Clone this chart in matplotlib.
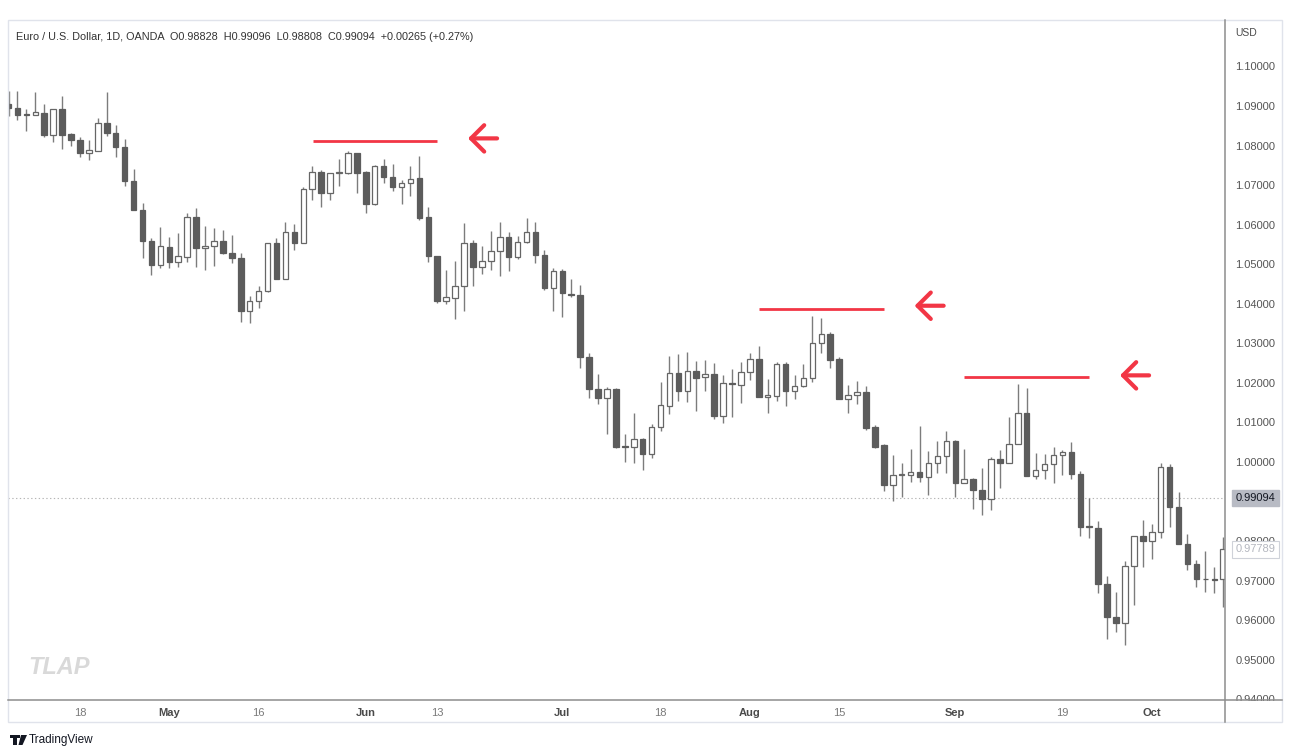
import numpy as np
import pandas as pd
import matplotlib
matplotlib.use("Agg")
import matplotlib.pyplot as plt
from matplotlib.lines import Line2D
from matplotlib.patches import Rectangle, Polygon

plt.rcParams['font.family'] = ['Liberation Sans', 'DejaVu Sans']

# ---------------- data ----------------
dates = pd.bdate_range('2022-04-06', '2022-10-13')

opens = [1.0905, 1.0895, 1.0880, 1.0877, 1.0883, 1.0827, 1.0892, 1.0828, 1.0814, 1.0782,
         1.0787, 1.0856, 1.0831, 1.0797, 1.0711, 1.0637, 1.0559, 1.0498, 1.0544, 1.0506,
         1.0519, 1.0620, 1.0540, 1.0546, 1.0559, 1.0529, 1.0515, 1.0382, 1.0407, 1.0432,
         1.0553, 1.0463, 1.0582, 1.0554, 1.0689, 1.0734, 1.0679, 1.0730, 1.0731, 1.0780,
         1.0734, 1.0651, 1.0748, 1.0720, 1.0696, 1.0704, 1.0717, 1.0620, 1.0521, 1.0407,
         1.0415, 1.0445, 1.0553, 1.0492, 1.0509, 1.0533, 1.0568, 1.0519, 1.0555, 1.0582,
         1.0523, 1.0441, 1.0483, 1.0424, 1.0422, 1.0266, 1.0185, 1.0161, 1.0185, 1.0040,
         1.0037, 1.0058, 1.0019, 1.0088, 1.0142, 1.0226, 1.0179, 1.0230, 1.0214, 1.0223,
         1.0117, 1.0198, 1.0195, 1.0227, 1.0260, 1.0165, 1.0168, 1.0247, 1.0179, 1.0193,
         1.0212, 1.0300, 1.0324, 1.0260, 1.0158, 1.0169, 1.0178, 1.0088, 1.0043, 0.9942,
         0.9967, 0.9967, 0.9974, 0.9961, 0.9998, 1.0015, 1.0054, 0.9946, 0.9956, 0.9929,
         0.9906, 1.0007, 0.9998, 1.0046, 1.0123, 0.9965, 0.9980, 0.9995, 1.0017, 1.0025,
         0.9970, 0.9836, 0.9832, 0.9692, 0.9607, 0.9592, 0.9737, 0.9814, 0.9801, 0.9824,
         0.9988, 0.9885, 0.9793, 0.9741, 0.9704, 0.9703, 0.9703]
highs = [1.0938, 1.0938, 1.0892, 1.0934, 1.0905, 1.0892, 1.0925, 1.0832, 1.0821, 1.0814,
         1.0869, 1.0936, 1.0852, 1.0816, 1.0740, 1.0654, 1.0565, 1.0595, 1.0569, 1.0578,
         1.0630, 1.0641, 1.0597, 1.0592, 1.0586, 1.0575, 1.0529, 1.0420, 1.0445, 1.0554,
         1.0565, 1.0607, 1.0602, 1.0696, 1.0748, 1.0738, 1.0731, 1.0765, 1.0787, 1.0782,
         1.0736, 1.0751, 1.0765, 1.0753, 1.0713, 1.0748, 1.0774, 1.0644, 1.0521, 1.0485,
         1.0508, 1.0603, 1.0561, 1.0547, 1.0584, 1.0606, 1.0581, 1.0571, 1.0616, 1.0607,
         1.0536, 1.0490, 1.0487, 1.0463, 1.0447, 1.0276, 1.0222, 1.0190, 1.0187, 1.0072,
         1.0123, 1.0061, 1.0096, 1.0203, 1.0269, 1.0273, 1.0279, 1.0255, 1.0258, 1.0251,
         1.0220, 1.0234, 1.0254, 1.0275, 1.0294, 1.0210, 1.0254, 1.0254, 1.0220, 1.0247,
         1.0369, 1.0365, 1.0328, 1.0266, 1.0195, 1.0205, 1.0192, 1.0094, 1.0045, 1.0018,
         0.9997, 1.0033, 1.0091, 1.0028, 1.0054, 1.0079, 1.0056, 1.0032, 0.9959, 0.9986,
         1.0013, 1.0030, 1.0115, 1.0197, 1.0186, 1.0024, 1.0020, 1.0037, 1.0030, 1.0051,
         0.9978, 0.9908, 0.9852, 0.9711, 0.9672, 0.9750, 0.9814, 0.9853, 0.9843, 0.9998,
         0.9995, 0.9925, 0.9817, 0.9752, 0.9775, 0.9734, 0.9810]
lows = [1.0875, 1.0865, 1.0837, 1.0876, 1.0822, 1.0810, 1.0792, 1.0799, 1.0770, 1.0763,
        1.0787, 1.0824, 1.0772, 1.0698, 1.0636, 1.0515, 1.0473, 1.0491, 1.0491, 1.0494,
        1.0506, 1.0494, 1.0485, 1.0496, 1.0527, 1.0502, 1.0355, 1.0351, 1.0390, 1.0430,
        1.0463, 1.0463, 1.0536, 1.0554, 1.0662, 1.0644, 1.0662, 1.0698, 1.0728, 1.0681,
        1.0629, 1.0650, 1.0705, 1.0686, 1.0652, 1.0672, 1.0612, 1.0506, 1.0401, 1.0399,
        1.0361, 1.0382, 1.0445, 1.0475, 1.0485, 1.0470, 1.0484, 1.0512, 1.0553, 1.0504,
        1.0435, 1.0382, 1.0366, 1.0418, 1.0237, 1.0163, 1.0146, 1.0072, 1.0035, 1.0001,
        0.9998, 0.9981, 1.0009, 1.0079, 1.0121, 1.0155, 1.0152, 1.0130, 1.0180, 1.0108,
        1.0098, 1.0115, 1.0148, 1.0207, 1.0164, 1.0125, 1.0155, 1.0142, 1.0158, 1.0190,
        1.0203, 1.0276, 1.0238, 1.0158, 1.0123, 1.0147, 1.0081, 1.0035, 0.9927, 0.9901,
        0.9912, 0.9950, 0.9950, 0.9917, 0.9971, 0.9971, 0.9912, 0.9946, 0.9880, 0.9866,
        0.9879, 0.9934, 0.9998, 1.0046, 0.9965, 0.9956, 0.9956, 0.9946, 0.9967, 0.9956,
        0.9814, 0.9809, 0.9670, 0.9552, 0.9571, 0.9537, 0.9639, 0.9735, 0.9754, 0.9807,
        0.9836, 0.9793, 0.9727, 0.9683, 0.9672, 0.9670, 0.9634]
closes = [1.0895, 1.0878, 1.0877, 1.0884, 1.0827, 1.0892, 1.0827, 1.0814, 1.0782, 1.0789,
          1.0856, 1.0831, 1.0797, 1.0711, 1.0636, 1.0559, 1.0498, 1.0546, 1.0506, 1.0521,
          1.0620, 1.0540, 1.0547, 1.0559, 1.0529, 1.0515, 1.0382, 1.0407, 1.0432, 1.0553,
          1.0463, 1.0582, 1.0554, 1.0689, 1.0734, 1.0679, 1.0731, 1.0732, 1.0780, 1.0731,
          1.0651, 1.0748, 1.0720, 1.0696, 1.0704, 1.0715, 1.0616, 1.0521, 1.0407, 1.0416,
          1.0446, 1.0553, 1.0492, 1.0509, 1.0533, 1.0568, 1.0519, 1.0557, 1.0582, 1.0523,
          1.0439, 1.0483, 1.0426, 1.0422, 1.0266, 1.0185, 1.0161, 1.0185, 1.0039, 1.0038,
          1.0057, 1.0019, 1.0089, 1.0144, 1.0226, 1.0179, 1.0230, 1.0213, 1.0223, 1.0116,
          1.0199, 1.0197, 1.0227, 1.0260, 1.0164, 1.0169, 1.0247, 1.0179, 1.0193, 1.0212,
          1.0300, 1.0324, 1.0258, 1.0158, 1.0169, 1.0178, 1.0087, 1.0039, 0.9942, 0.9967,
          0.9968, 0.9974, 0.9961, 0.9998, 1.0015, 1.0054, 0.9946, 0.9956, 0.9929, 0.9906,
          1.0007, 0.9998, 1.0046, 1.0123, 0.9965, 0.9980, 0.9995, 1.0017, 1.0025, 0.9970,
          0.9836, 0.9835, 0.9692, 0.9607, 0.9592, 0.9737, 0.9814, 0.9801, 0.9824, 0.9988,
          0.9885, 0.9793, 0.9741, 0.9704, 0.9703, 0.9702, 0.9779]

tick_dates = ['2022-04-18', '2022-05-02', '2022-05-16', '2022-06-01', '2022-06-13',
              '2022-07-01', '2022-07-18', '2022-08-01', '2022-08-15', '2022-09-01',
              '2022-09-19', '2022-10-03']
tick_labels = ['18', 'May', '16', 'Jun', '13', 'Jul', '18', 'Aug', '15', 'Sep', '19', 'Oct']
month_labels = {'May', 'Jun', 'Jul', 'Aug', 'Sep', 'Oct'}
# 0.99 is hidden behind the crosshair price tag in the reference
price_ticks = [0.94, 0.95, 0.96, 0.97, 0.98, 1.00, 1.01, 1.02, 1.03,
               1.04, 1.05, 1.06, 1.07, 1.08, 1.09, 1.10]

# resistance annotations (levels, span in bar units, arrow tips)
res_levels = [1.0811, 1.0388, 1.0214]
res_spans = [(34.1, 48.0), (84.05, 98.0), (107.0, 121.0)]
arrow_levels = [1.0818, 1.0395, 1.0219]
arrow_tips = [51.45, 101.45, 124.45]

header = ("Euro / U.S. Dollar, 1D, OANDA  O0.98828  H0.99096  L0.98808  "
          "C0.99094  +0.00265 (+0.27%)")
crosshair_price = 0.99094
last_price = 0.97789

# ---------------- figure ----------------
W, H = 1290, 754
fig = plt.figure(figsize=(W / 100, H / 100), dpi=100)
fig.patch.set_facecolor('white')

def fx(px):
    return px / W

def fy(py):
    return 1 - py / H

ax = fig.add_axes([fx(8), fy(700), fx(1225) - fx(8), fy(22) - fy(700)])
ax.set_facecolor('white')

x = np.arange(len(dates))
o = np.array(opens); h = np.array(highs); l = np.array(lows); c = np.array(closes)
up = c >= o
bottom = np.minimum(o, c)
height = np.maximum(np.abs(c - o), 0.00022)

wick_col = '#7c7c7c'
dark_col = '#5c5c5c'
ax.vlines(x, l, h, color=wick_col, lw=1.0, zorder=1)
ax.bar(x[up], height[up], bottom=bottom[up], width=0.62, facecolor='white',
       edgecolor='#666666', lw=0.9, zorder=2)
ax.bar(x[~up], height[~up], bottom=bottom[~up], width=0.62, facecolor=dark_col,
       edgecolor=dark_col, lw=0.9, zorder=2)

# crosshair dotted line
ax.axhline(crosshair_price, color='#b5b5b5', lw=0.8, ls=(0, (1.2, 2.2)), zorder=0)

# resistance lines and arrows
red = '#f23645'
for lev, (x0, x1) in zip(res_levels, res_spans):
    ax.plot([x0, x1], [lev, lev], color=red, lw=2.0, solid_capstyle='butt', zorder=4)
for lev, tip in zip(arrow_levels, arrow_tips):
    ax.annotate('', xy=(tip, lev), xytext=(tip + 3.25, lev),
                arrowprops=dict(arrowstyle='->,head_length=0.5,head_width=0.5',
                                mutation_scale=19, lw=3.0, color=red,
                                shrinkA=0, shrinkB=0, capstyle='round',
                                joinstyle='round'),
                zorder=5)

ax.set_xlim(-0.06, 136.2)
ax.set_ylim(0.93984, 1.11122)

# ticks
tick_pos = [dates.get_loc(pd.Timestamp(d)) for d in tick_dates]
ax.set_xticks(tick_pos)
ax.set_xticklabels(tick_labels)
for lab in ax.get_xticklabels():
    if lab.get_text() in month_labels:
        lab.set_fontweight('bold')
        lab.set_color('#4a4a4a')
    else:
        lab.set_color('#7a7a7a')
ax.tick_params(axis='x', length=0, pad=6, labelsize=8)

ax.yaxis.tick_right()
ax.set_yticks(price_ticks)
ax.set_yticklabels([f'{p:.5f}' for p in price_ticks])
ax.tick_params(axis='y', length=0, pad=7.5, labelsize=8, labelcolor='#555555')

for s in ax.spines.values():
    s.set_visible(False)

# price labels on the scale
ax.annotate(f'{crosshair_price:.5f}', xy=(1, crosshair_price),
            xycoords=('axes fraction', 'data'), xytext=(7.5, 0),
            textcoords='offset points', ha='left', va='center', fontsize=8,
            color='#131722', annotation_clip=False, zorder=6,
            bbox=dict(boxstyle='square,pad=0.3', fc='#b8bbc4', ec='#b8bbc4'))
ax.annotate(f'{last_price:.5f}', xy=(1, last_price),
            xycoords=('axes fraction', 'data'), xytext=(7.5, 0),
            textcoords='offset points', ha='left', va='center', fontsize=8,
            color='#b4b7bf', annotation_clip=False, zorder=6,
            bbox=dict(boxstyle='square,pad=0.3', fc='white', ec='#cfd2d9', lw=0.8))

# header, currency, watermark
fig.text(fx(16), fy(37), header, fontsize=7.8, color='#333333', va='center', ha='left')
fig.text(fx(1235), fy(33), 'USD', fontsize=7.5, color='#4a4a4a', va='center', ha='left')
fig.text(fx(28), fy(668), 'TLAP', fontsize=17, fontweight='bold', fontstyle='italic',
         color='#d9d9d9', va='center', ha='left')

# frame / axis lines
fig.add_artist(Rectangle((fx(1226), fy(721)), fx(1281) - fx(1226), fy(701) - fy(721),
                         transform=fig.transFigure, fc='white', ec='none', zorder=3))
fig.add_artist(Rectangle((fx(8), fy(722)), fx(1282) - fx(8), fy(20) - fy(722),
                         transform=fig.transFigure, fill=False, ec='#e0e3eb', lw=1, zorder=4))
fig.add_artist(Line2D([fx(1225), fx(1225)], [fy(20), fy(722)], transform=fig.transFigure,
                      color='#8d8d8d', lw=1.1, zorder=5))
fig.add_artist(Line2D([fx(8), fx(1282)], [fy(700), fy(700)], transform=fig.transFigure,
                      color='#8d8d8d', lw=1.1, zorder=5))

# TradingView logo + text
fig.add_artist(Rectangle((fx(10), fy(738)), fx(18) - fx(10), fy(735) - fy(738),
                         transform=fig.transFigure, fc='#131722', ec='none'))
fig.add_artist(Rectangle((fx(13), fy(745)), fx(17) - fx(13), fy(738) - fy(745),
                         transform=fig.transFigure, fc='#131722', ec='none'))
fig.add_artist(Polygon([(fx(21), fy(735)), (fx(27), fy(735)), (fx(22.5), fy(745)),
                        (fx(18.5), fy(745))], closed=True,
                       transform=fig.transFigure, fc='#131722', ec='none'))
fig.add_artist(Rectangle((fx(17.5), fy(738)), fx(20) - fx(17.5), fy(735) - fy(738),
                         transform=fig.transFigure, fc='#131722', ec='none'))
fig.text(fx(29), fy(740), 'TradingView', fontsize=8.5, color='#131722', va='center', ha='left')

fig.savefig('out.png', dpi=100, facecolor='white')
